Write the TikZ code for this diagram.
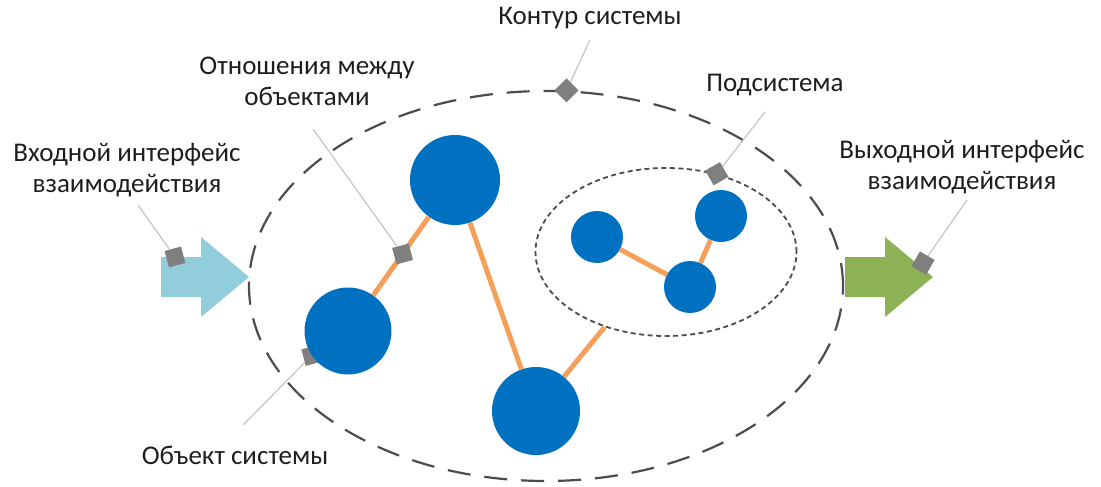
\documentclass[tikz,border=0pt]{standalone}
\usepackage{fontspec}
\setmainfont{Carlito}
\usetikzlibrary{shapes.geometric,calc,backgrounds}
\definecolor{objblue}{HTML}{0070C0}
\definecolor{linkorange}{HTML}{F5A05A}
\definecolor{inblue}{HTML}{92CDDC}
\definecolor{outgreen}{HTML}{8DB255}
\definecolor{markgray}{HTML}{7F7F7F}
\definecolor{leadgray}{HTML}{C4C4C4}
\definecolor{txtgray}{HTML}{1E1E1E}
\begin{document}
\begin{tikzpicture}[x=1pt,y=-1pt,
  obj/.style={circle,fill=objblue,inner sep=0pt,minimum size=#1},
  link/.style={linkorange,line width=5pt},
  markbox/.style={fill=markgray,inner sep=0pt,minimum size=17pt,rotate=#1},
  leader/.style={leadgray,line width=1.2pt},
  lbl/.style={text=txtgray,align=center,font=\fontsize{27}{31}\selectfont}]
  \useasboundingbox (0,0) rectangle (1101,487);
  \node[ellipse,draw=black!70,line width=2.2pt,dash pattern=on 23pt off 14pt,
    minimum width=594pt,minimum height=390pt,inner sep=0pt] (outer) at (546,286) {};
  \node[ellipse,draw=black!70,line width=1.8pt,dash pattern=on 5pt off 3.5pt,
    minimum width=261pt,minimum height=168pt,inner sep=0pt] (sub) at (666,252) {};
  \fill[inblue] (161,257) -- (201,257) -- (201,237) -- (249,277) -- (201,317)
    -- (201,297) -- (161,297) -- cycle;
  \fill[outgreen] (845,257) -- (885,257) -- (885,237) -- (933,277) -- (885,317)
    -- (885,297) -- (845,297) -- cycle;
  \node[obj=90pt] (big1) at (455,180) {};
  \node[obj=87pt] (big2) at (348,331) {};
  \node[obj=88pt] (big3) at (536,411) {};
  \node[obj=52pt] (sa) at (597,237) {};
  \node[obj=52pt] (sb) at (721,216) {};
  \node[obj=52pt] (sc) at (690,287) {};
  \foreach \a/\b in {big2/big1,big1/big3,big3/sub,sa/sc,sc/sb}
    \draw[link] (\a) -- (\b);
  \node[markbox=45] (mOutline) at (outer.84) {};
  \node[markbox=30] (mSub) at (sub.57) {};
  \node[markbox=15] (mLink) at ($(big2)!0.51!(big1)$) {};
  \node[markbox=15] (mIn) at (175,257) {};
  \node[markbox=-30] (mOut) at (923,263) {};
  \begin{scope}[on background layer]
    \node[markbox=15] (mObj) at (big2.214) {};
  \end{scope}
  \node[lbl] (lOutline) at (590,18) {Контур системы};
  \node[lbl] (lLink) at (307,81) {Отношения между\\объектами};
  \node[lbl] (lSub) at (775,85) {Подсистема};
  \node[lbl] (lIn) at (127,170) {Входной интерфейс\\взаимодействия};
  \node[lbl] (lOut) at (962,167) {Выходной интерфейс\\взаимодействия};
  \node[lbl] (lObj) at (235,455) {Объект системы};
  \coordinate (tOutline) at (590,40);
  \coordinate (tLink) at (313,129);
  \coordinate (tSub) at (765,112);
  \coordinate (tIn) at (138,205);
  \coordinate (tOut) at (967,200);
  \coordinate (tObj) at (243,425);
  \foreach \t/\m in {tOutline/mOutline,tLink/mLink,tSub/mSub,tIn/mIn,tOut/mOut,tObj/mObj}
    \draw[leader] (\t) -- (\m);
\end{tikzpicture}
\end{document}
